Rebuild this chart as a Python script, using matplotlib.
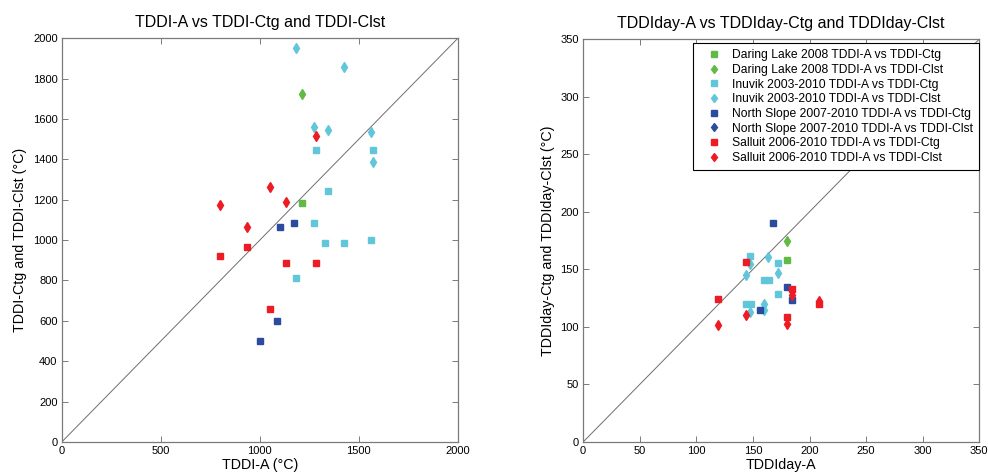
import matplotlib
matplotlib.use("Agg")
import matplotlib.pyplot as plt

plt.rcParams['font.family'] = ['Liberation Sans', 'DejaVu Sans']

# ---------------- data ----------------
labels = [
    "Daring Lake 2008 TDDI-A vs TDDI-Ctg",
    "Daring Lake 2008 TDDI-A vs TDDI-Clst",
    "Inuvik 2003-2010 TDDI-A vs TDDI-Ctg",
    "Inuvik 2003-2010 TDDI-A vs TDDI-Clst",
    "North Slope 2007-2010 TDDI-A vs TDDI-Ctg",
    "North Slope 2007-2010 TDDI-A vs TDDI-Clst",
    "Salluit 2006-2010 TDDI-A vs TDDI-Ctg",
    "Salluit 2006-2010 TDDI-A vs TDDI-Clst",
]
colors = ['#63b946', '#63b946', '#62c6da', '#62c6da',
          '#2b4c9e', '#2b4c9e', '#ed1c24', '#ed1c24']
markers = ['s', 'd', 's', 'd', 's', 'd', 's', 'd']

# Left panel: TDDI (degree C)
dl_ctg_x = [1215];  dl_ctg_y = [1186]
dl_cl_x = [1215];   dl_cl_y = [1723]
inu_ctg_x = [1284, 1570, 1346, 1274, 1328, 1427, 1560, 1183]
inu_ctg_y = [1446, 1446, 1242, 1084, 984, 984, 998, 812]
inu_cl_x = [1183, 1427, 1274, 1346, 1560, 1570]
inu_cl_y = [1950, 1859, 1558, 1543, 1537, 1389]
ns_ctg_x = [1102, 1171, 1088, 1001]
ns_ctg_y = [1066, 1084, 598, 498]
ns_cl_x = []; ns_cl_y = []
sal_ctg_x = [797, 935, 1052, 1131, 1284]
sal_ctg_y = [923, 967, 661, 885, 886]
sal_cl_x = [797, 935, 1050, 1131, 1282]
sal_cl_y = [1176, 1064, 1262, 1191, 1515]

# Right panel: TDDIday
dld_ctg_x = [180.1]; dld_ctg_y = [158.3]
dld_cl_x = [180.1];  dld_cl_y = [174.8]
inud_ctg_x = [147.7, 171.9, 159.5, 164.0, 171.9, 143.9, 148.3]
inud_ctg_y = [161.5, 155.5, 140.7, 140.7, 128.3, 119.6, 119.6]
inud_cl_x = [147.7, 163.6, 171.9, 143.6, 159.5, 159.5, 147.7]
inud_cl_y = [154.6, 160.4, 146.8, 145.0, 120.1, 114.6, 113.2]
nsd_ctg_x = [167.8, 180.1, 184.3, 156.0]
nsd_ctg_y = [190.5, 134.4, 123.3, 114.6]
nsd_cl_x = []; nsd_cl_y = []
sald_ctg_x = [143.6, 119.4, 184.3, 180.1, 208.1]
sald_ctg_y = [156.6, 124.2, 132.6, 108.3, 120.1]
sald_cl_x = [119.4, 143.6, 184.3, 180.1, 208.1]
sald_cl_y = [101.9, 110.3, 127.7, 102.5, 122.5]

left_series = [(dl_ctg_x, dl_ctg_y), (dl_cl_x, dl_cl_y),
               (inu_ctg_x, inu_ctg_y), (inu_cl_x, inu_cl_y),
               (ns_ctg_x, ns_ctg_y), (ns_cl_x, ns_cl_y),
               (sal_ctg_x, sal_ctg_y), (sal_cl_x, sal_cl_y)]
right_series = [(dld_ctg_x, dld_ctg_y), (dld_cl_x, dld_cl_y),
                (inud_ctg_x, inud_ctg_y), (inud_cl_x, inud_cl_y),
                (nsd_ctg_x, nsd_ctg_y), (nsd_cl_x, nsd_cl_y),
                (sald_ctg_x, sald_ctg_y), (sald_cl_x, sald_cl_y)]

left_lim = 2000
right_lim = 350
left_xticks = [0, 500, 1000, 1500, 2000]
left_yticks = list(range(0, 2001, 200))
right_ticks = list(range(0, 351, 50))

# ---------------- figure ----------------
fig = plt.figure(figsize=(9.88, 4.74), dpi=100)
axL = fig.add_axes([0.0625, 0.0675, 0.401, 0.852])
axR = fig.add_axes([0.5902, 0.0675, 0.401, 0.850])

def style(ax):
    for s in ax.spines.values():
        s.set_color('#7a7a7a')
        s.set_linewidth(0.9)
    ax.tick_params(direction='in', top=True, right=True, length=4,
                   width=0.7, color='#7a7a7a', labelsize=8, pad=3)

def draw(ax, series, lim):
    ax.plot([0, lim], [0, lim], color='#6e6e6e', lw=0.7, zorder=1)
    handles = []
    for (x, y), c, m, lab in zip(series, colors, markers, labels):
        ms = 5 if m == 's' else 5.5
        h, = ax.plot(x, y, linestyle='none', marker=m, color=c,
                     markeredgecolor=c, markersize=ms, label=lab, zorder=3)
        handles.append(h)
    ax.set_xlim(0, lim)
    ax.set_ylim(0, lim)
    return handles

draw(axL, left_series, left_lim)
axL.set_xticks(left_xticks)
axL.set_yticks(left_yticks)
axL.set_title("TDDI-A vs TDDI-Ctg and TDDI-Clst", fontsize=11.5, pad=8)
axL.set_xlabel("TDDI-A (°C)", fontsize=10.3, labelpad=1)
axL.set_ylabel("TDDI-Ctg and TDDI-Clst (°C)", fontsize=10.3, labelpad=4)
style(axL)

hR = draw(axR, right_series, right_lim)
axR.set_xticks(right_ticks)
axR.set_yticks(right_ticks)
axR.set_title("TDDIday-A vs TDDIday-Ctg and TDDIday-Clst", fontsize=11.5, pad=8)
axR.set_xlabel("TDDIday-A", fontsize=10.3, labelpad=1)
axR.set_ylabel("TDDIday-Ctg and TDDIday-Clst (°C)", fontsize=10.3, labelpad=4)
style(axR)

leg = axR.legend(handles=hR, loc='upper right', bbox_to_anchor=(1.0, 0.99),
                 borderaxespad=0.0, fontsize=8.75, frameon=True, fancybox=False,
                 framealpha=1.0, edgecolor='black', handlelength=2.5,
                 handletextpad=0.24, labelspacing=0.22, borderpad=0.5,
                 markerscale=0.8)
leg.get_frame().set_linewidth(0.8)
leg.set_zorder(5)

fig.savefig("out.png", dpi=100)
